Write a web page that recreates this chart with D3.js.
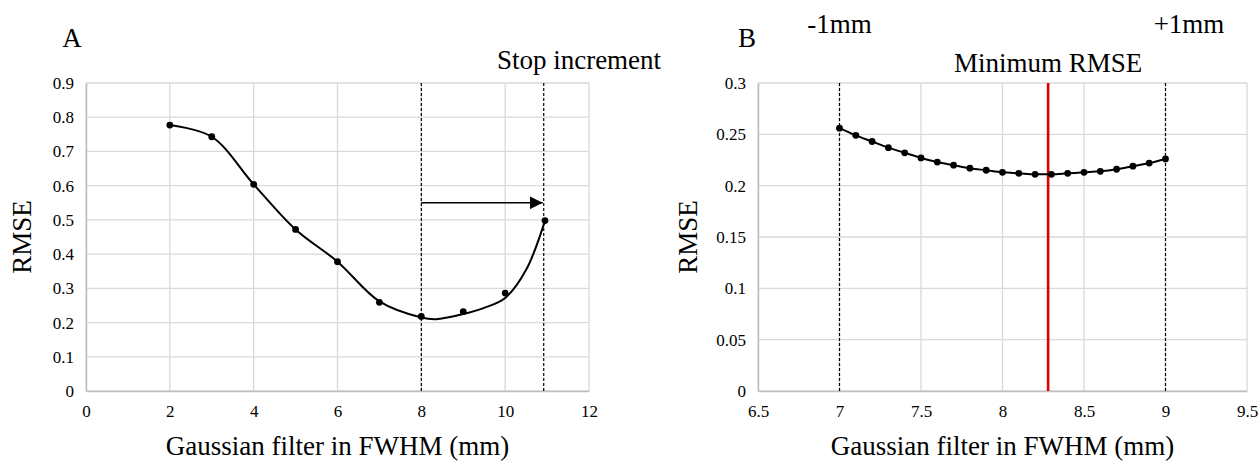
<!DOCTYPE html>
<html><head><meta charset="utf-8">
<script src="https://cdn.jsdelivr.net/npm/d3@7"></script>
<style>body{margin:0;background:#fff}svg{display:block}</style>
</head><body><svg id="c" width="1260" height="461"></svg>
<script>
// Panel A data
const aPointX = [2, 3, 4, 5, 6, 7, 8, 9, 10, 10.95];
const aPointY = [0.777, 0.743, 0.604, 0.472, 0.378, 0.259, 0.218, 0.232, 0.286, 0.498];
// smoothed curve
const aCurveX = [2, 3, 4, 5, 6, 7, 8, 8.35, 9, 9.5, 10, 10.5, 10.95];
const aCurveY = [0.777, 0.743, 0.604, 0.472, 0.378, 0.262, 0.215, 0.210, 0.225, 0.243, 0.272, 0.354, 0.498];
const aXTicks = [0, 2, 4, 6, 8, 10, 12];
const aYTicks = [0, 0.1, 0.2, 0.3, 0.4, 0.5, 0.6, 0.7, 0.8, 0.9];
const aDashed = [8, 10.92];
const aArrow = {x0: 8, x1: 10.92, y: 0.55};

// Panel B data
const bX = [7.0, 7.1, 7.2, 7.3, 7.4, 7.5, 7.6, 7.7, 7.8, 7.9, 8.0, 8.1, 8.2, 8.3, 8.4, 8.5, 8.6, 8.7, 8.8, 8.9, 9.0];
const bY = [0.256, 0.249, 0.243, 0.237, 0.232, 0.227, 0.223, 0.220, 0.217, 0.215, 0.213, 0.212, 0.211, 0.211, 0.212, 0.213, 0.214, 0.216, 0.219, 0.222, 0.226];
const bXTicks = [6.5, 7, 7.5, 8, 8.5, 9, 9.5];
const bYTicks = [0, 0.05, 0.1, 0.15, 0.2, 0.25, 0.3];
const bDashed = [7, 9];
const bRed = 8.28;

const FONT = "'Liberation Serif', 'Times New Roman', 'DejaVu Serif', serif";
const svg = d3.select("#c");
const defs = svg.append("defs");
defs.append("marker").attr("id","arr").attr("viewBox","0 0 10 10").attr("refX",10).attr("refY",5)
  .attr("markerWidth",8).attr("markerHeight",8).attr("markerUnits","strokeWidth").attr("orient","auto")
  .append("path").attr("d","M0,0L10,5L0,10Z").attr("fill","#000");

function label(x, y, t, size){
  return svg.append("text").attr("x",x).attr("y",y).attr("text-anchor","middle")
    .style("font-family",FONT).style("font-size",size+"px").attr("fill","#000").text(t);
}

function panel(o){
  const x = d3.scaleLinear().domain(o.xd).range([o.l, o.r]);
  const y = d3.scaleLinear().domain(o.yd).range([o.b, o.t]);
  const g = svg.append("g");
  g.append("g").selectAll("line").data(o.yt).join("line")
    .attr("x1",o.l).attr("x2",o.r).attr("y1",d=>y(d)).attr("y2",d=>y(d))
    .attr("stroke","#d9d9d9").attr("stroke-width",1.3);
  g.append("g").selectAll("line").data(o.xt).join("line")
    .attr("y1",o.t).attr("y2",o.b).attr("x1",d=>x(d)).attr("x2",d=>x(d))
    .attr("stroke","#d9d9d9").attr("stroke-width",1.3);
  const ax = g.append("g").attr("transform",`translate(0,${o.b})`)
    .call(d3.axisBottom(x).tickValues(o.xt).tickSize(0).tickPadding(14).tickFormat(d=>String(d)));
  const ay = g.append("g").attr("transform",`translate(${o.l},0)`)
    .call(d3.axisLeft(y).tickValues(o.yt).tickSize(0).tickPadding(12).tickFormat(d=>String(+d.toFixed(2))));
  [ax, ay].forEach(a=>{
    a.attr("font-family",null).attr("font-size",null);
    a.select(".domain").attr("stroke","#bfbfbf").attr("stroke-width",1.5);
    a.selectAll("text").style("font-family",FONT).style("font-size","17px").attr("fill","#000");
  });
  g.append("text").attr("x",(o.l+o.r)/2).attr("y",455).attr("text-anchor","middle")
    .style("font-family",FONT).style("font-size","27px").text("Gaussian filter in FWHM (mm)");
  g.append("text").attr("transform",`translate(${o.yl},${(o.t+o.b)/2}) rotate(-90)`).attr("text-anchor","middle")
    .attr("dominant-baseline","central").style("font-family",FONT).style("font-size","27px").text("RMSE");
  return {x, y, g};
}

// Panel A
const A = panel({xd:[0,12], yd:[0,0.9], l:86, r:589, t:83, b:391, xt:aXTicks, yt:aYTicks, yl:22});
A.g.append("g").selectAll("line").data(aDashed).join("line")
  .attr("x1",d=>A.x(d)).attr("x2",d=>A.x(d)).attr("y1",A.y(0.9)).attr("y2",A.y(0))
  .attr("stroke","#000").attr("stroke-width",1.2).attr("stroke-dasharray","3,2");
A.g.append("line").attr("x1",A.x(aArrow.x0)).attr("x2",A.x(aArrow.x1)-1).attr("y1",A.y(aArrow.y)).attr("y2",A.y(aArrow.y))
  .attr("stroke","#000").attr("stroke-width",1.6).attr("marker-end","url(#arr)");
const aCurve = aCurveX.map((d,i)=>[d,aCurveY[i]]);
A.g.append("path").datum(aCurve)
  .attr("d", d3.line().x(d=>A.x(d[0])).y(d=>A.y(d[1])).curve(d3.curveCatmullRom.alpha(0.5)))
  .attr("fill","none").attr("stroke","#000").attr("stroke-width",2);
A.g.append("g").selectAll("circle").data(aPointX.map((d,i)=>[d,aPointY[i]])).join("circle")
  .attr("cx",d=>A.x(d[0])).attr("cy",d=>A.y(d[1])).attr("r",3.4).attr("fill","#000");
label(72, 47, "A", 27);
label(579, 69, "Stop increment", 27);

// Panel B
const B = panel({xd:[6.5,9.5], yd:[0,0.3], l:758, r:1247, t:83, b:391, xt:bXTicks, yt:bYTicks, yl:688});
B.g.append("g").selectAll("line").data(bDashed).join("line")
  .attr("x1",d=>B.x(d)).attr("x2",d=>B.x(d)).attr("y1",B.y(0.3)).attr("y2",B.y(0))
  .attr("stroke","#000").attr("stroke-width",1.2).attr("stroke-dasharray","3,2");
B.g.append("line").attr("x1",B.x(bRed)).attr("x2",B.x(bRed)).attr("y1",B.y(0.3)).attr("y2",B.y(0))
  .attr("stroke","#e00000").attr("stroke-width",2.6);
const bData = bX.map((d,i)=>[d,bY[i]]);
B.g.append("path").datum(bData)
  .attr("d", d3.line().x(d=>B.x(d[0])).y(d=>B.y(d[1])).curve(d3.curveMonotoneX))
  .attr("fill","none").attr("stroke","#000").attr("stroke-width",2);
B.g.append("g").selectAll("circle").data(bData).join("circle")
  .attr("cx",d=>B.x(d[0])).attr("cy",d=>B.y(d[1])).attr("r",3.4).attr("fill","#000");
label(747, 47, "B", 27);
label(839.5, 33, "-1mm", 27);
label(1189, 33, "+1mm", 27);
label(B.x(bRed), 72, "Minimum RMSE", 27);
</script></body></html>
